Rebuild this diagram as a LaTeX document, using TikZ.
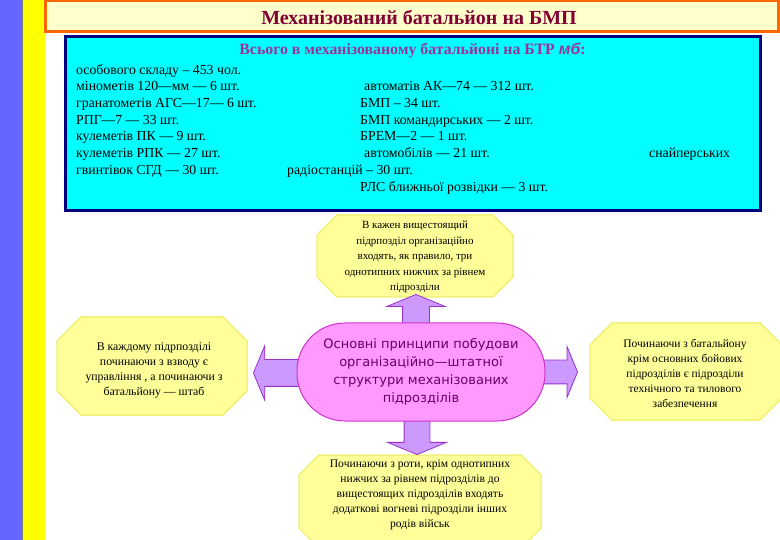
\documentclass[tikz,border=0pt]{standalone}
\usepackage{fontspec}
\setmainfont{Liberation Serif}
\newfontfamily\djv{DejaVu Sans}
\newfontfamily\lsans{Liberation Sans}
\usetikzlibrary{shapes.arrows}
\pgfdeclarelayer{bg}\pgfdeclarelayer{mid}\pgfsetlayers{bg,mid,main}
\definecolor{stripeblue}{HTML}{6666FF}
\definecolor{stripeyellow}{HTML}{FFFF00}
\definecolor{titlefill}{HTML}{FFFFCC}
\definecolor{titleborder}{HTML}{FF6600}
\definecolor{titletext}{HTML}{800033}
\definecolor{cyanfill}{HTML}{00FFFF}
\definecolor{boxnavy}{HTML}{000080}
\definecolor{headpurple}{HTML}{993399}
\definecolor{octfill}{HTML}{FFFF99}
\definecolor{octline}{HTML}{F2F27A}
\definecolor{arrowfill}{HTML}{CC99FF}
\definecolor{arrowline}{HTML}{9933CC}
\definecolor{pinkfill}{HTML}{FF99FF}
\definecolor{pinkline}{HTML}{CC33CC}
\definecolor{centertext}{HTML}{660066}
\newcommand\octag[5]{%
  \filldraw[oct] (#1+#5,#2) -- (#3-#5,#2) -- (#3,#2+#5) -- (#3,#4-#5) -- (#3-#5,#4) -- (#1+#5,#4) -- (#1,#4-#5) -- (#1,#2+#5) -- cycle;}
\tikzset{
  oct/.style={fill=octfill, draw=octline, line width=1.5pt},
  octtxt/.style={align=center, inner sep=0pt, font=\fontsize{11.5}{15.5}\selectfont},
  bodytxt/.style={anchor=base west, inner sep=0pt, font=\fontsize{13.8}{16}\selectfont},
  blockarrow/.style={single arrow, draw=arrowline, fill=arrowfill, line width=0.8pt, inner xsep=0pt,
     inner ysep=13pt, single arrow tip angle=135, single arrow head extend=15.5pt},
  vblockarrow/.style={blockarrow, inner ysep=0pt, inner xsep=13pt},
}
\begin{document}
\begin{tikzpicture}[x=1pt,y=-1pt]
\useasboundingbox (0,0) rectangle (780,540);
\begin{pgfonlayer}{bg}
\fill[white] (0,0) rectangle (780,540);
\fill[stripeblue] (0,0) rectangle (22,540);
\fill[stripeyellow] (23,0) rectangle (45,540);
\draw[gray, line width=0.8pt] (22.5,0) -- (22.5,540);
\end{pgfonlayer}
% title
\node[draw=titleborder, fill=titlefill, line width=3pt, minimum width=733pt, minimum height=31pt, inner sep=0pt] (titlebox) at (411.5,16.5) {};
\node[text=titletext, font=\bfseries\fontsize{20}{22}\selectfont, inner sep=0pt] (title) at (419,17) {Механізований батальйон на БМП};
% cyan box
\node[draw=boxnavy, fill=cyanfill, line width=3pt, minimum width=695pt, minimum height=174pt, inner sep=0pt] (cyanbox) at (412.5,124) {};
\node[text=headpurple, font=\bfseries\fontsize{15.8}{17}\selectfont, inner sep=0pt] (head) at (412.5,50) {Всього в механізованому батальйоні на БТР {\lsans\itshape мб}:};
\node[bodytxt] (r0a) at (76,74.5) {особового складу – 453 чол.};
\node[bodytxt] (r1a) at (76,91) {мінометів 120—мм — 6 шт.};
\node[bodytxt] (r1b) at (364,91) {автоматів АК—74 — 312 шт.};
\node[bodytxt] (r2a) at (76,107.5) {гранатометів АГС—17— 6 шт.};
\node[bodytxt] (r2b) at (360,107.5) {БМП – 34 шт.};
\node[bodytxt] (r3a) at (76,124.5) {РПГ—7 — 33 шт.};
\node[bodytxt] (r3b) at (360,124.5) {БМП командирських — 2 шт.};
\node[bodytxt] (r4a) at (76,141) {кулеметів ПК — 9 шт.};
\node[bodytxt] (r4b) at (360,141) {БРЕМ—2 — 1 шт.};
\node[bodytxt] (r5a) at (76,157.5) {кулеметів РПК — 27 шт.};
\node[bodytxt] (r5b) at (364,157.5) {автомобілів — 21 шт.};
\node[bodytxt] (r5c) at (649,157.5) {снайперських};
\node[bodytxt] (r6a) at (76,174.5) {гвинтівок СГД — 30 шт.};
\node[bodytxt] (r6b) at (287,174.5) {радіостанцій – 30 шт.};
\node[bodytxt] (r7b) at (360,191.5) {РЛС ближньої розвідки — 3 шт.};
% octagons
\begin{pgfonlayer}{bg}
\octag{317}{215}{513}{297}{20}
\octag{57}{317}{247}{415}{24}
\octag{590}{323}{782}{420}{22}
\octag{299}{455}{541}{548}{20}
\end{pgfonlayer}
\node[octtxt, font=\fontsize{11}{15.5}\selectfont] (toptxt) at (415,257) {В кажен вищестоящий\\ підрпозділ організаційно\\ входять, як правило, три\\ однотипних нижчих за рівнем\\ підрозділи};
\node[octtxt, font=\fontsize{11.8}{15}\selectfont] (lefttxt) at (154,370) {В каждому підрпозділі\\ починаючи з взводу є\\ управління , а починаючи з\\ батальйону — штаб};
\node[octtxt, font=\fontsize{11.5}{15}\selectfont] (righttxt) at (685,373) {Починаючи з батальйону\\ крім основних бойових\\ підрозділів є підрозділи\\ технічного та тилового\\ забезпечення};
\node[octtxt, font=\fontsize{11.6}{15}\selectfont] (bottxt) at (420,495) {Починаючи з роти, крім однотипних\\ нижчих за рівнем підрозділів до\\ вищестоящих підрозділів входять\\ додаткові вогневі підрозділи інших\\ родів військ};
% arrows
\begin{pgfonlayer}{mid}
\node[vblockarrow, shape border rotate=90, minimum height=32pt, anchor=tip] (aup) at (416,294) {};
\node[vblockarrow, shape border rotate=270, minimum height=36pt, inner xsep=12.5pt, single arrow head extend=16.5pt, anchor=tip] (adown) at (417,455) {};
\node[blockarrow, shape border rotate=180, minimum height=46pt, single arrow head extend=14pt, anchor=tip] (aleft) at (253,373) {};
\node[blockarrow, shape border rotate=0, minimum height=40pt, inner ysep=11.5pt, single arrow head extend=13.5pt, anchor=tip] (aright) at (578,372) {};
\end{pgfonlayer}
% center
\node[draw=pinkline, fill=pinkfill, line width=1pt, rounded corners=48pt, minimum width=248pt, minimum height=98pt, inner sep=0pt,
  align=center, text=centertext, font=\djv\fontsize{13}{18}\selectfont] (center) at (421,372)
  {Основні принципи побудови\\ організаційно—штатної\\ структури механізованих\\ підрозділів};
\end{tikzpicture}
\end{document}
